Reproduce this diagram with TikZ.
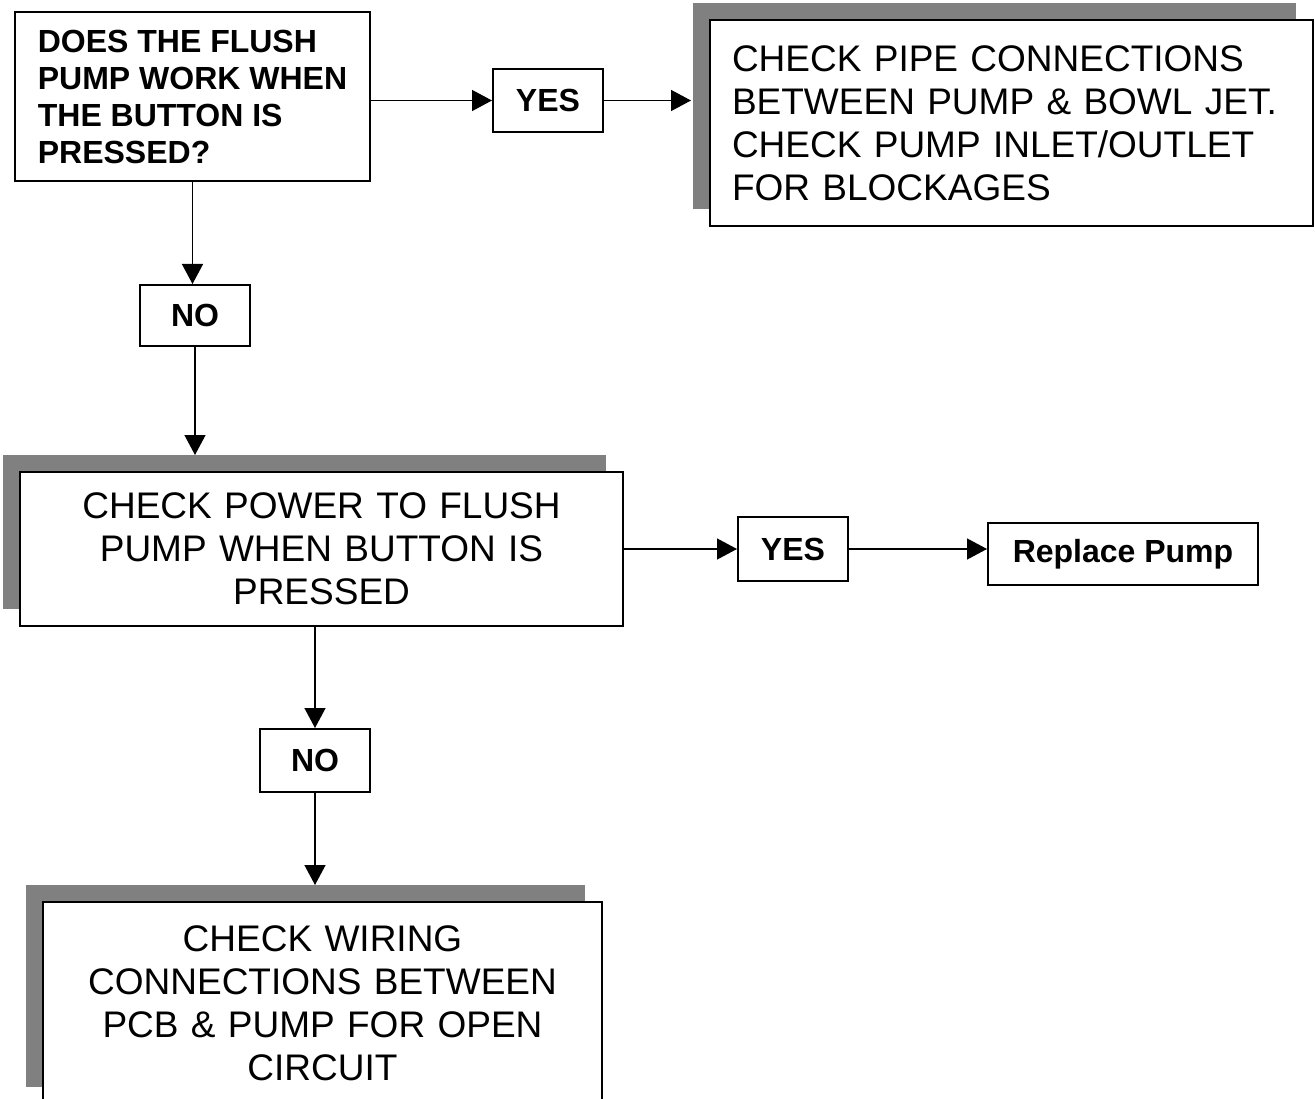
\documentclass[tikz,border=0pt]{standalone}
\usepackage{fontspec}
\setmainfont{Liberation Sans}
\usetikzlibrary{positioning,arrows.meta,shadows}
\tikzset{
  chkbox/.style={draw, line width=2pt, fill=white, inner sep=0pt},
  chkstep/.style={chkbox, font=\fontsize{37}{43}\selectfont,
    drop shadow={shadow xshift=-17pt, shadow yshift=17pt, fill=black!50, opacity=1}},
  chkask/.style={chkbox, font=\fontsize{32}{37}\selectfont\bfseries, align=left},
  chklabel/.style={chkbox, font=\fontsize{32}{37}\selectfont\bfseries,
    minimum width=110pt, minimum height=63pt},
  chkarrow/.style={-{Triangle[length=20pt,width=21pt]}, line width=1.4pt},
}

\begin{document}
\begin{tikzpicture}[x=1pt, y=-1pt]
  \clip (0,0) rectangle (1315,1099);
  \node[chkask, minimum width=355pt, minimum height=169pt] (ask) at (192.5,96.5) {DOES THE FLUSH\\PUMP WORK WHEN\\THE BUTTON IS\\PRESSED?};
  \node[chklabel] (yesa) at (548,100.5) {YES};
  \node[chkstep, text width=559pt, align=left, minimum width=603pt, minimum height=206pt] (pipe) at (1011.5,123) {CHECK PIPE CONNECTIONS\\BETWEEN PUMP \& BOWL JET.\\CHECK PUMP INLET/OUTLET\\FOR BLOCKAGES};
  \node[chklabel, minimum height=61pt] (noa) at (195,315.5) {NO};
  \node[chkstep, text width=560pt, align=center, minimum width=603pt, minimum height=154pt] (power) at (321.5,549) {CHECK POWER TO FLUSH\\PUMP WHEN BUTTON IS\\PRESSED};
  \node[chklabel, minimum height=64pt] (yesb) at (793,549) {YES};
  \node[chklabel, minimum width=270pt, minimum height=62pt] (pump) at (1123,554) {Replace Pump};
  \node[chklabel] (nob) at (315,760.5) {NO};
  \node[chkstep, text width=520pt, align=center, minimum width=559pt, minimum height=202pt] (wiring) at (322.5,1003) {CHECK WIRING\\CONNECTIONS BETWEEN\\PCB \& PUMP FOR OPEN\\CIRCUIT};

  \draw[chkarrow] (ask.east |- yesa.west) -- (yesa.west);
  \draw[chkarrow, shorten >=18pt] (yesa.east) -- (yesa.east -| pipe.west);
  \draw[chkarrow] (ask.south) -- (ask.south |- noa.north);
  \draw[chkarrow, shorten >=16pt] (noa.south) -- (noa.south |- power.north);
  \draw[chkarrow] (power.east |- yesb.west) -- (yesb.west);
  \draw[chkarrow] (yesb.east) -- (yesb.east -| pump.west);
  \draw[chkarrow] (nob.north |- power.south) -- (nob.north);
  \draw[chkarrow, shorten >=16pt] (nob.south) -- (nob.south |- wiring.north);
\end{tikzpicture}
\end{document}
